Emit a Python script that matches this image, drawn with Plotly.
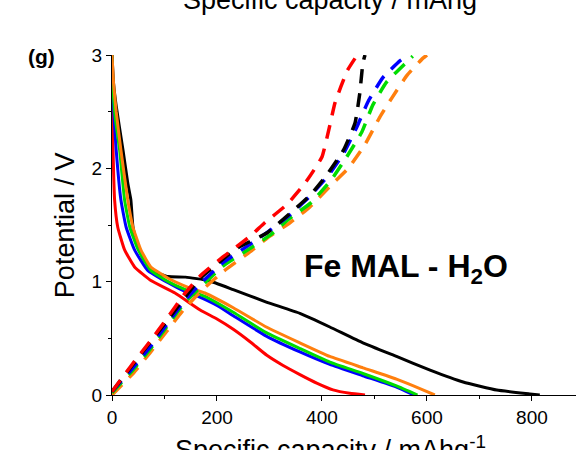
import plotly.graph_objects as go

# Discharge (solid) and charge (dashed) profiles at different current densities
rates = ["5", "1", "20", "50", "100"]
colors = {"5": "#ff0000", "1": "#000000", "20": "#0000ff", "50": "#00dd00", "100": "#ff7f0e"}

dis_cap = {
    "1": [0, 3, 8, 21, 30, 36, 40, 50, 60, 80, 107, 140, 183, 231, 294, 358, 415, 478, 542, 606, 669, 733, 796, 815],
    "5": [0, 0.5, 2, 5, 11, 24, 43, 74, 120, 168, 200, 231, 263, 295, 326, 358, 390, 421, 453, 482],
    "20": [0, 1.5, 4, 8, 17, 27, 43, 68, 107, 136, 164, 200, 231, 294, 358, 415, 478, 542, 575],
    "50": [0, 2, 6, 14.6, 24, 34, 50, 74, 107, 140, 177, 231, 294, 358, 415, 478, 542, 582],
    "100": [0, 3, 8, 17, 30, 40, 55, 74, 107, 145, 177, 231, 294, 358, 415, 478, 542, 590, 615],
}
dis_pot = {
    "1": [3.0, 2.75, 2.55, 2.16, 1.87, 1.72, 1.48, 1.31, 1.2, 1.09, 1.045, 1.04, 1.01, 0.93, 0.82, 0.72, 0.6, 0.46, 0.34, 0.22, 0.115, 0.044, 0.01, 0.0],
    "5": [3.0, 2.6, 2.16, 1.72, 1.48, 1.28, 1.13, 1.01, 0.9, 0.75, 0.67, 0.58, 0.47, 0.35, 0.26, 0.18, 0.105, 0.045, 0.015, 0.0],
    "20": [3.0, 2.7, 2.45, 2.16, 1.72, 1.48, 1.28, 1.10, 0.99, 0.92, 0.87, 0.79, 0.70, 0.52, 0.38, 0.27, 0.17, 0.07, 0.0],
    "50": [3.0, 2.7, 2.45, 2.16, 1.72, 1.48, 1.28, 1.10, 1.0, 0.93, 0.87, 0.73, 0.55, 0.41, 0.29, 0.19, 0.08, 0.0],
    "100": [3.0, 2.75, 2.5, 2.16, 1.72, 1.48, 1.28, 1.13, 1.03, 0.95, 0.90, 0.77, 0.60, 0.46, 0.34, 0.24, 0.14, 0.05, 0.0],
}

chg_cap = {
    "5": [0, 40, 72, 104, 136, 168, 212, 263, 291, 333, 368, 400, 415, 425, 448, 463],
    "1": [0, 40, 104, 168, 240, 295, 377, 409, 441, 463, 472, 478, 482],
    "20": [0, 40, 72, 104, 136, 168, 212, 260, 297, 339, 374, 411, 441, 466, 488, 516, 549, 562],
    "50": [0, 40, 72, 104, 136, 168, 212, 262, 301, 339, 380, 418, 447, 476, 497, 523, 562, 573],
    "100": [0, 40, 72, 104, 136, 168, 212, 262, 297, 339, 377, 415, 450, 482, 510, 533, 562, 592, 600],
}
chg_pot = {
    "5": [0.03, 0.28, 0.47, 0.67, 0.88, 1.05, 1.22, 1.40, 1.52, 1.68, 1.87, 2.10, 2.38, 2.58, 2.86, 2.97],
    "1": [0.03, 0.27, 0.65, 1.03, 1.30, 1.43, 1.76, 1.94, 2.16, 2.40, 2.66, 2.93, 3.0],
    "20": [0.03, 0.24, 0.42, 0.62, 0.82, 0.98, 1.17, 1.32, 1.44, 1.59, 1.74, 1.93, 2.13, 2.36, 2.59, 2.8, 2.95, 2.99],
    "50": [0.02, 0.22, 0.40, 0.60, 0.80, 0.95, 1.14, 1.29, 1.41, 1.56, 1.70, 1.90, 2.10, 2.32, 2.56, 2.76, 2.94, 2.99],
    "100": [0.0, 0.19, 0.37, 0.56, 0.75, 0.91, 1.09, 1.26, 1.39, 1.52, 1.66, 1.84, 2.0, 2.21, 2.45, 2.62, 2.82, 2.97, 3.0],
}

label_x = {"5": 457, "1": 495, "20": 549, "50": 594, "100": 651}

FONT = "Arial, Liberation Sans, sans-serif"

fig = go.Figure()
for r in ["1", "5", "20", "50", "100"]:
    fig.add_trace(go.Scatter(x=dis_cap[r], y=dis_pot[r], mode="lines",
                             line=dict(color=colors[r], width=3, shape="spline", smoothing=0.4),
                             showlegend=False, hoverinfo="skip"))
for r in ["100", "50", "20", "1", "5"]:
    fig.add_trace(go.Scatter(x=chg_cap[r], y=chg_pot[r], mode="lines",
                             line=dict(color=colors[r], width=3.5, dash="14px,10px", shape="spline", smoothing=0.4),
                             showlegend=False, hoverinfo="skip"))

for r in rates:
    fig.add_annotation(x=label_x[r], y=3.11, xref="x", yref="y", text=r, showarrow=False,
                       font=dict(family=FONT, size=18, color=colors[r]))

fig.add_annotation(x=560, y=1.12, xref="x", yref="y", text="<b>Fe MAL - H<sub>2</sub>O</b>",
                   showarrow=False, font=dict(family=FONT, size=32, color="black"))
fig.add_annotation(x=-0.153, y=1.035, xref="paper", yref="paper", xanchor="center",
                   text="<b>(g)</b>",
                   showarrow=False, font=dict(family=FONT, size=21, color="black"))
fig.add_annotation(x=0.47, y=1.111, xref="paper", yref="paper", yanchor="bottom",
                   text="Specific capacity / mAhg",
                   showarrow=False, font=dict(family=FONT, size=27, color="black"))
fig.add_annotation(x=0.47, y=-0.212, xref="paper", yref="paper",
                   text="Specific capacity / mAhg<sup>-1</sup>",
                   showarrow=False, font=dict(family=FONT, size=27, color="black"))
fig.add_annotation(x=-0.101, y=0.5, xref="paper", yref="paper", xanchor="center",
                   textangle=-90, text="Potential / V",
                   showarrow=False, font=dict(family=FONT, size=27, color="black"))

fig.update_xaxes(range=[0, 884], showline=True, linecolor="black", linewidth=1.2,
                 ticks="outside", ticklen=5, tickwidth=1.2, tickcolor="black",
                 tickvals=[0, 200, 400, 600, 800],
                 minor=dict(tickvals=[100, 300, 500, 700], ticks="outside", ticklen=3, tickcolor="black"),
                 showgrid=False, zeroline=False,
                 tickfont=dict(family=FONT, size=19, color="black"))
fig.update_yaxes(range=[0, 3], showline=True, linecolor="black", linewidth=1.2,
                 ticks="outside", ticklen=5, tickwidth=1.2, tickcolor="black",
                 tickvals=[0, 1, 2, 3],
                 minor=dict(tickvals=[0.5, 1.5, 2.5], ticks="outside", ticklen=3, tickcolor="black"),
                 showgrid=False, zeroline=False,
                 tickfont=dict(family=FONT, size=19, color="black"))

fig.update_layout(width=576, height=450, margin=dict(l=112, r=0, t=55, b=55),
                  plot_bgcolor="white", paper_bgcolor="white", showlegend=False)

fig.write_html("out.html")
